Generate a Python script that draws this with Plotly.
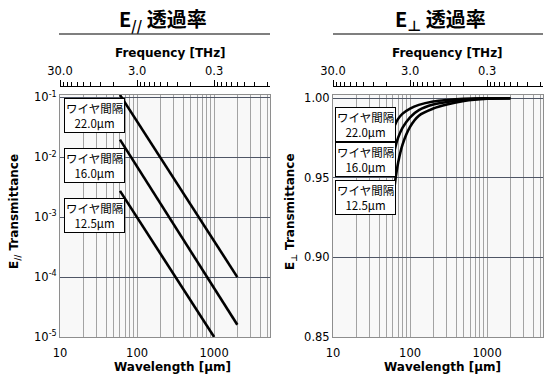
import plotly.graph_objects as go

# ---------------- data ----------------
# E// transmittance (log-log straight lines), wavelength in µm
par_labels = ["ワイヤ間隔<br>22.0μm", "ワイヤ間隔<br>16.0μm", "ワイヤ間隔<br>12.5μm"]
par_wl_a = [60, 2000]
par_t_a = [0.11, 1.0e-4]
par_wl_b = [60, 2000]
par_t_b = [0.0197, 1.6e-5]
par_wl_c = [60, 1000]
par_t_c = [2.75e-3, 1.0e-5]

# E⊥ transmittance
perp_wl = [60, 65, 70, 80, 100, 130, 200, 300, 500, 1000, 2000]
perp_t_a = [0.980, 0.9842, 0.9870, 0.9903, 0.9935, 0.9958, 0.9979, 0.9989, 0.9996, 0.9999, 1.0000]
perp_t_b = [0.962, 0.9700, 0.9752, 0.9815, 0.9880, 0.9925, 0.9960, 0.9976, 0.9990, 0.9998, 1.0000]
perp_t_c = [0.936, 0.9500, 0.9595, 0.9710, 0.9820, 0.9890, 0.9935, 0.9960, 0.9982, 0.9996, 1.0000]

# axis ticks
wl_major = [10, 100, 1000]
wl_major_text = ["10", "100", "1000"]
wl_minor = [20, 30, 40, 50, 60, 70, 80, 90, 200, 300, 400, 500, 600, 700, 800, 900,
            2000, 3000, 4000, 5000]
freq_major = [30.0, 3.0, 0.3]
freq_major_text = ["30.0", "3.0", "0.3"]
freq_minor = [27, 24, 21, 18, 15, 12, 9, 6,
              2.7, 2.4, 2.1, 1.8, 1.5, 1.2, 0.9, 0.6,
              0.27, 0.24, 0.21, 0.18, 0.15, 0.12, 0.09, 0.06]
par_yticks = [1e-1, 1e-2, 1e-3, 1e-4, 1e-5]
par_ytext = ["10<sup>-1</sup>", "10<sup>-2</sup>", "10<sup>-3</sup>", "10<sup>-4</sup>", "10<sup>-5</sup>"]
perp_yticks = [0.85, 0.90, 0.95, 1.00]
perp_ytext = ["0.85", "0.90", "0.95", "1.00"]

C_THZ_UM = 300.0  # λ[µm] = 300 / f[THz]

# ---------------- layout geometry ----------------
W, H = 555, 381
ML, MR, MT, MB = 60, 12, 86, 44
PW = W - ML - MR
PH = H - MT - MB


def px(x):
    return (x - ML) / PW


def py(y):
    return (H - MB - y) / PH


FONT = "DejaVu Sans"
JP = "Noto Sans CJK JP"
XR = [1, 3.725]

fig = go.Figure()

line = dict(color="black", width=2.6)
for wl, t in [(par_wl_a, par_t_a), (par_wl_b, par_t_b), (par_wl_c, par_t_c)]:
    fig.add_trace(go.Scatter(x=wl, y=t, mode="lines", line=line, xaxis="x", yaxis="y",
                             showlegend=False, hoverinfo="skip"))
for t in [perp_t_a, perp_t_b, perp_t_c]:
    fig.add_trace(go.Scatter(x=perp_wl, y=t, mode="lines", line=dict(color="black", width=2.6, shape="spline"),
                             xaxis="x2", yaxis="y2", showlegend=False, hoverinfo="skip"))
# dummy traces for top axes
fig.add_trace(go.Scatter(x=[100], y=[1e-3], mode="markers", marker=dict(opacity=0),
                         xaxis="x3", yaxis="y", showlegend=False, hoverinfo="skip"))
fig.add_trace(go.Scatter(x=[100], y=[0.9], mode="markers", marker=dict(opacity=0),
                         xaxis="x4", yaxis="y2", showlegend=False, hoverinfo="skip"))

ydom = [0, py(95)]
dom1 = [0, px(270)]
dom2 = [px(333), 1]

grid_c = "#a3a3a3"
border_c = "#8e8e8e"
hgrid_c = "#4f5666"


def bottom_axis(dom, anchor):
    return dict(type="log", range=XR, domain=dom, anchor=anchor, automargin=False,
                tickmode="array", tickvals=wl_major, ticktext=wl_major_text,
                ticks="", showgrid=True, gridcolor=grid_c, gridwidth=1,
                minor=dict(tickvals=wl_minor, showgrid=True, gridcolor=grid_c, gridwidth=1, ticks=""),
                showline=True, linecolor=border_c, linewidth=1, mirror=True,
                tickfont=dict(family=FONT, size=11.5, color="black"),
                ticklabelstandoff=5, zeroline=False)


def top_axis(over):
    return dict(type="log", range=XR, overlaying=over, side="top", anchor="free", position=1,
                automargin=False,
                tickmode="array", tickvals=[C_THZ_UM / f for f in freq_major], ticktext=freq_major_text,
                ticks="outside", ticklen=6, tickcolor="black", tickwidth=1,
                minor=dict(tickvals=[C_THZ_UM / f for f in freq_minor], ticks="outside", ticklen=4,
                           tickcolor="black", tickwidth=1, showgrid=False),
                showline=True, linecolor="black", linewidth=1, showgrid=False,
                tickfont=dict(family=FONT, size=11.5, color="black"), zeroline=False)


fig.update_layout(
    width=W, height=H, margin=dict(l=ML, r=MR, t=MT, b=MB, autoexpand=False),
    paper_bgcolor="white", plot_bgcolor="#f8f8f8",
    xaxis=bottom_axis(dom1, "y"), xaxis2=bottom_axis(dom2, "y2"),
    xaxis3=top_axis("x"), xaxis4=top_axis("x2"),
    yaxis=dict(type="log", range=[-5, -0.96], domain=ydom, anchor="x", automargin=False,
               tickmode="array", tickvals=par_yticks, ticktext=par_ytext, ticks="",
               showgrid=True, gridcolor=hgrid_c, gridwidth=1,
               showline=True, linecolor=border_c, linewidth=1, mirror=True,
               tickfont=dict(family=FONT, size=11.5, color="black"), zeroline=False),
    yaxis2=dict(range=[0.85, 1.002], domain=ydom, anchor="x2", automargin=False,
                tickmode="array", tickvals=perp_yticks, ticktext=perp_ytext, ticks="",
                showgrid=True, gridcolor=hgrid_c, gridwidth=1,
                showline=True, linecolor=border_c, linewidth=1, mirror=True,
                tickfont=dict(family=FONT, size=11.5, color="black"), zeroline=False),
)

C = dict(xref="paper", yref="paper", xanchor="center", yanchor="middle", showarrow=False)
ann = []
# main titles
ann.append(dict(text="<b>E<sub>//</sub> 透過率</b>", x=px(163), y=py(19),
                font=dict(family=JP, size=20, color="black"), **C))
ann.append(dict(text="<b>E<sub>⊥</sub> 透過率</b>", x=px(440), y=py(19),
                font=dict(family=JP, size=20, color="black"), **C))
# frequency titles
for cx in (170, 447):
    ann.append(dict(text="<b>Frequency [THz]</b>", x=px(cx), y=py(53),
                    font=dict(family=FONT, size=12, color="black"), **C))
# wavelength titles
for cx in (172, 442):
    ann.append(dict(text="<b>Wavelength [μm]</b>", x=px(cx), y=py(367),
                    font=dict(family=FONT, size=12, color="black"), **C))
# y titles
ann.append(dict(text="<b>E<sub>//</sub> Transmittance</b>", x=px(15), y=py(212), textangle=-90,
                font=dict(family=FONT, size=12, color="black"), **C))
ann.append(dict(text="<b>E<sub>⊥</sub> Transmittance</b>", x=px(291), y=py(212), textangle=-90,
                font=dict(family=FONT, size=12, color="black"), **C))
# wire-spacing labels
box = dict(bgcolor="white", bordercolor="black", borderwidth=1, borderpad=1)
for lab, cy in zip(par_labels, (115, 165, 215)):
    ann.append(dict(text=lab, x=px(94.5), y=py(cy), font=dict(family=JP, size=11.5, color="black"), **box, **C))
for lab, cy in zip(par_labels, (124, 159, 197.5)):
    ann.append(dict(text=lab, x=px(365), y=py(cy), font=dict(family=JP, size=11.5, color="black"), **box, **C))
fig.update_layout(annotations=ann)

shapes = [
    dict(type="line", xref="paper", yref="paper", x0=px(59), x1=px(270), y0=py(34), y1=py(34),
         line=dict(color="black", width=1.2)),
    dict(type="line", xref="paper", yref="paper", x0=px(333), x1=px(543), y0=py(34), y1=py(34),
         line=dict(color="black", width=1.2)),
]
fig.update_layout(shapes=shapes)

fig.write_html("out.html", config={"displayModeBar": False},
               post_script="document.body.style.margin='0';")
